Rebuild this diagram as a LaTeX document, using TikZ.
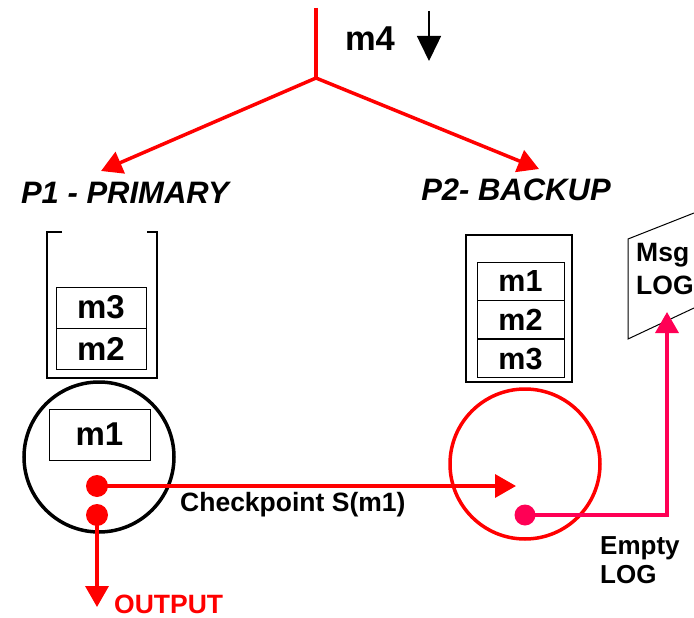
\documentclass[tikz,border=0pt]{standalone}
\usepackage{fontspec}
\setmainfont{Liberation Sans}
\usetikzlibrary{arrows.meta}
\definecolor{msgred}{RGB}{255,0,0}
\definecolor{logpink}{RGB}{255,0,85}
\tikzset{
  redline/.style={draw=msgred, line width=3.5pt},
  pinkline/.style={draw=logpink, line width=3.5pt},
  bigtip/.style={-{Triangle[length=21pt,width=23pt]}},
  slot/.style={draw=black, line width=0.8pt, minimum width=90pt, minimum height=41pt, inner sep=0pt,
    font=\fontsize{33}{36}\selectfont\bfseries},
  slotr/.style={slot, minimum width=87pt, minimum height=38pt, font=\fontsize{30.5}{34}\selectfont\bfseries},
  title/.style={font=\fontsize{31}{35}\selectfont\bfseries\itshape},
  lbl/.style={font=\fontsize{26.5}{30}\selectfont\bfseries, align=left, inner sep=0pt},
  dot/.style={circle, inner sep=0pt, minimum size=22pt},
}
\begin{document}
\begin{tikzpicture}[x=1pt,y=-1pt]
\useasboundingbox (0,0) rectangle (694,618);
\clip (0,0) rectangle (694,618);

% incoming message m4 and its fan-out
\coordinate (top) at (316,8);
\coordinate (fork) at (316,78);
\coordinate (p1in) at (101,171);
\coordinate (p2in) at (539,169);
\draw[redline] (top) -- (fork);
\draw[redline, bigtip] (fork) -- (p1in);
\draw[redline, bigtip] (fork) -- (p2in);
\node[font=\fontsize{34.5}{38}\selectfont\bfseries] (m4) at (370,39) {m4};
\coordinate (dnA) at (429,11);
\coordinate (dnB) at (429,61);
\draw[line width=1.5pt, -{Triangle[length=25pt,width=24pt]}] (dnA) -- (dnB);

\node[title] (p1) at (125,193) {P1 - PRIMARY};
\node[title] (p2) at (516,190) {P2- BACKUP};

% primary: queue and processor
\draw[line width=2pt] (62,232) -- (47,232) -- (47,378) -- (157,378) -- (157,232) -- (147,232);
\node[slot] (pm3) at (101,307.5) {m3};
\node[slot, anchor=north] (pm2) at (pm3.south) {m2};
\node[circle, draw=black, line width=3.5pt, minimum size=150pt, inner sep=0pt] (c1) at (99,457) {};
\node[slot, minimum width=101pt, minimum height=51pt] (pm1) at (99.5,434.5) {m1};
\node[dot, fill=msgred] (d1) at (97,486) {};
\node[dot, fill=msgred] (d2) at (97,515) {};

% backup: queue and processor
\draw[line width=2pt] (466,235) rectangle (572,382);
\node[slotr] (bm1) at (520.5,281) {m1};
\node[slotr, anchor=north] (bm2) at (bm1.south) {m2};
\node[slotr, anchor=north] (bm3) at (bm2.south) {m3};
\node[circle, draw=msgred, line width=3.5pt, minimum size=150pt, inner sep=0pt] (c2) at (525,464) {};
\node[dot, fill=logpink, minimum size=21pt] (d3) at (525,515) {};

% checkpoint transfer
\coordinate (cpend) at (516,486);
\draw[redline, bigtip] (d1.center) -- (cpend);
\node[lbl, anchor=north west] (cp) at (180,492) {Checkpoint S(m1)};

% output
\coordinate (outend) at (97,607);
\draw[redline, bigtip] (d2.center) -- (outend);
\node[lbl, anchor=base west, text=msgred] (out) at (114,613) {OUTPUT};

% message log
\draw[line width=1pt] (694,213) -- (628,239) -- (628,339) -- (694,308);
\node[font=\fontsize{26.5}{33}\selectfont\bfseries, align=left, anchor=north west, inner sep=0pt] (log) at (636,243) {Msg\\LOG};
\coordinate (login) at (667,312);
\draw[pinkline, bigtip] (d3.center) -| (login);
\node[lbl, anchor=north west, font=\fontsize{26}{29}\selectfont\bfseries] (empty) at (600,536) {Empty\\LOG};
\end{tikzpicture}
\end{document}
